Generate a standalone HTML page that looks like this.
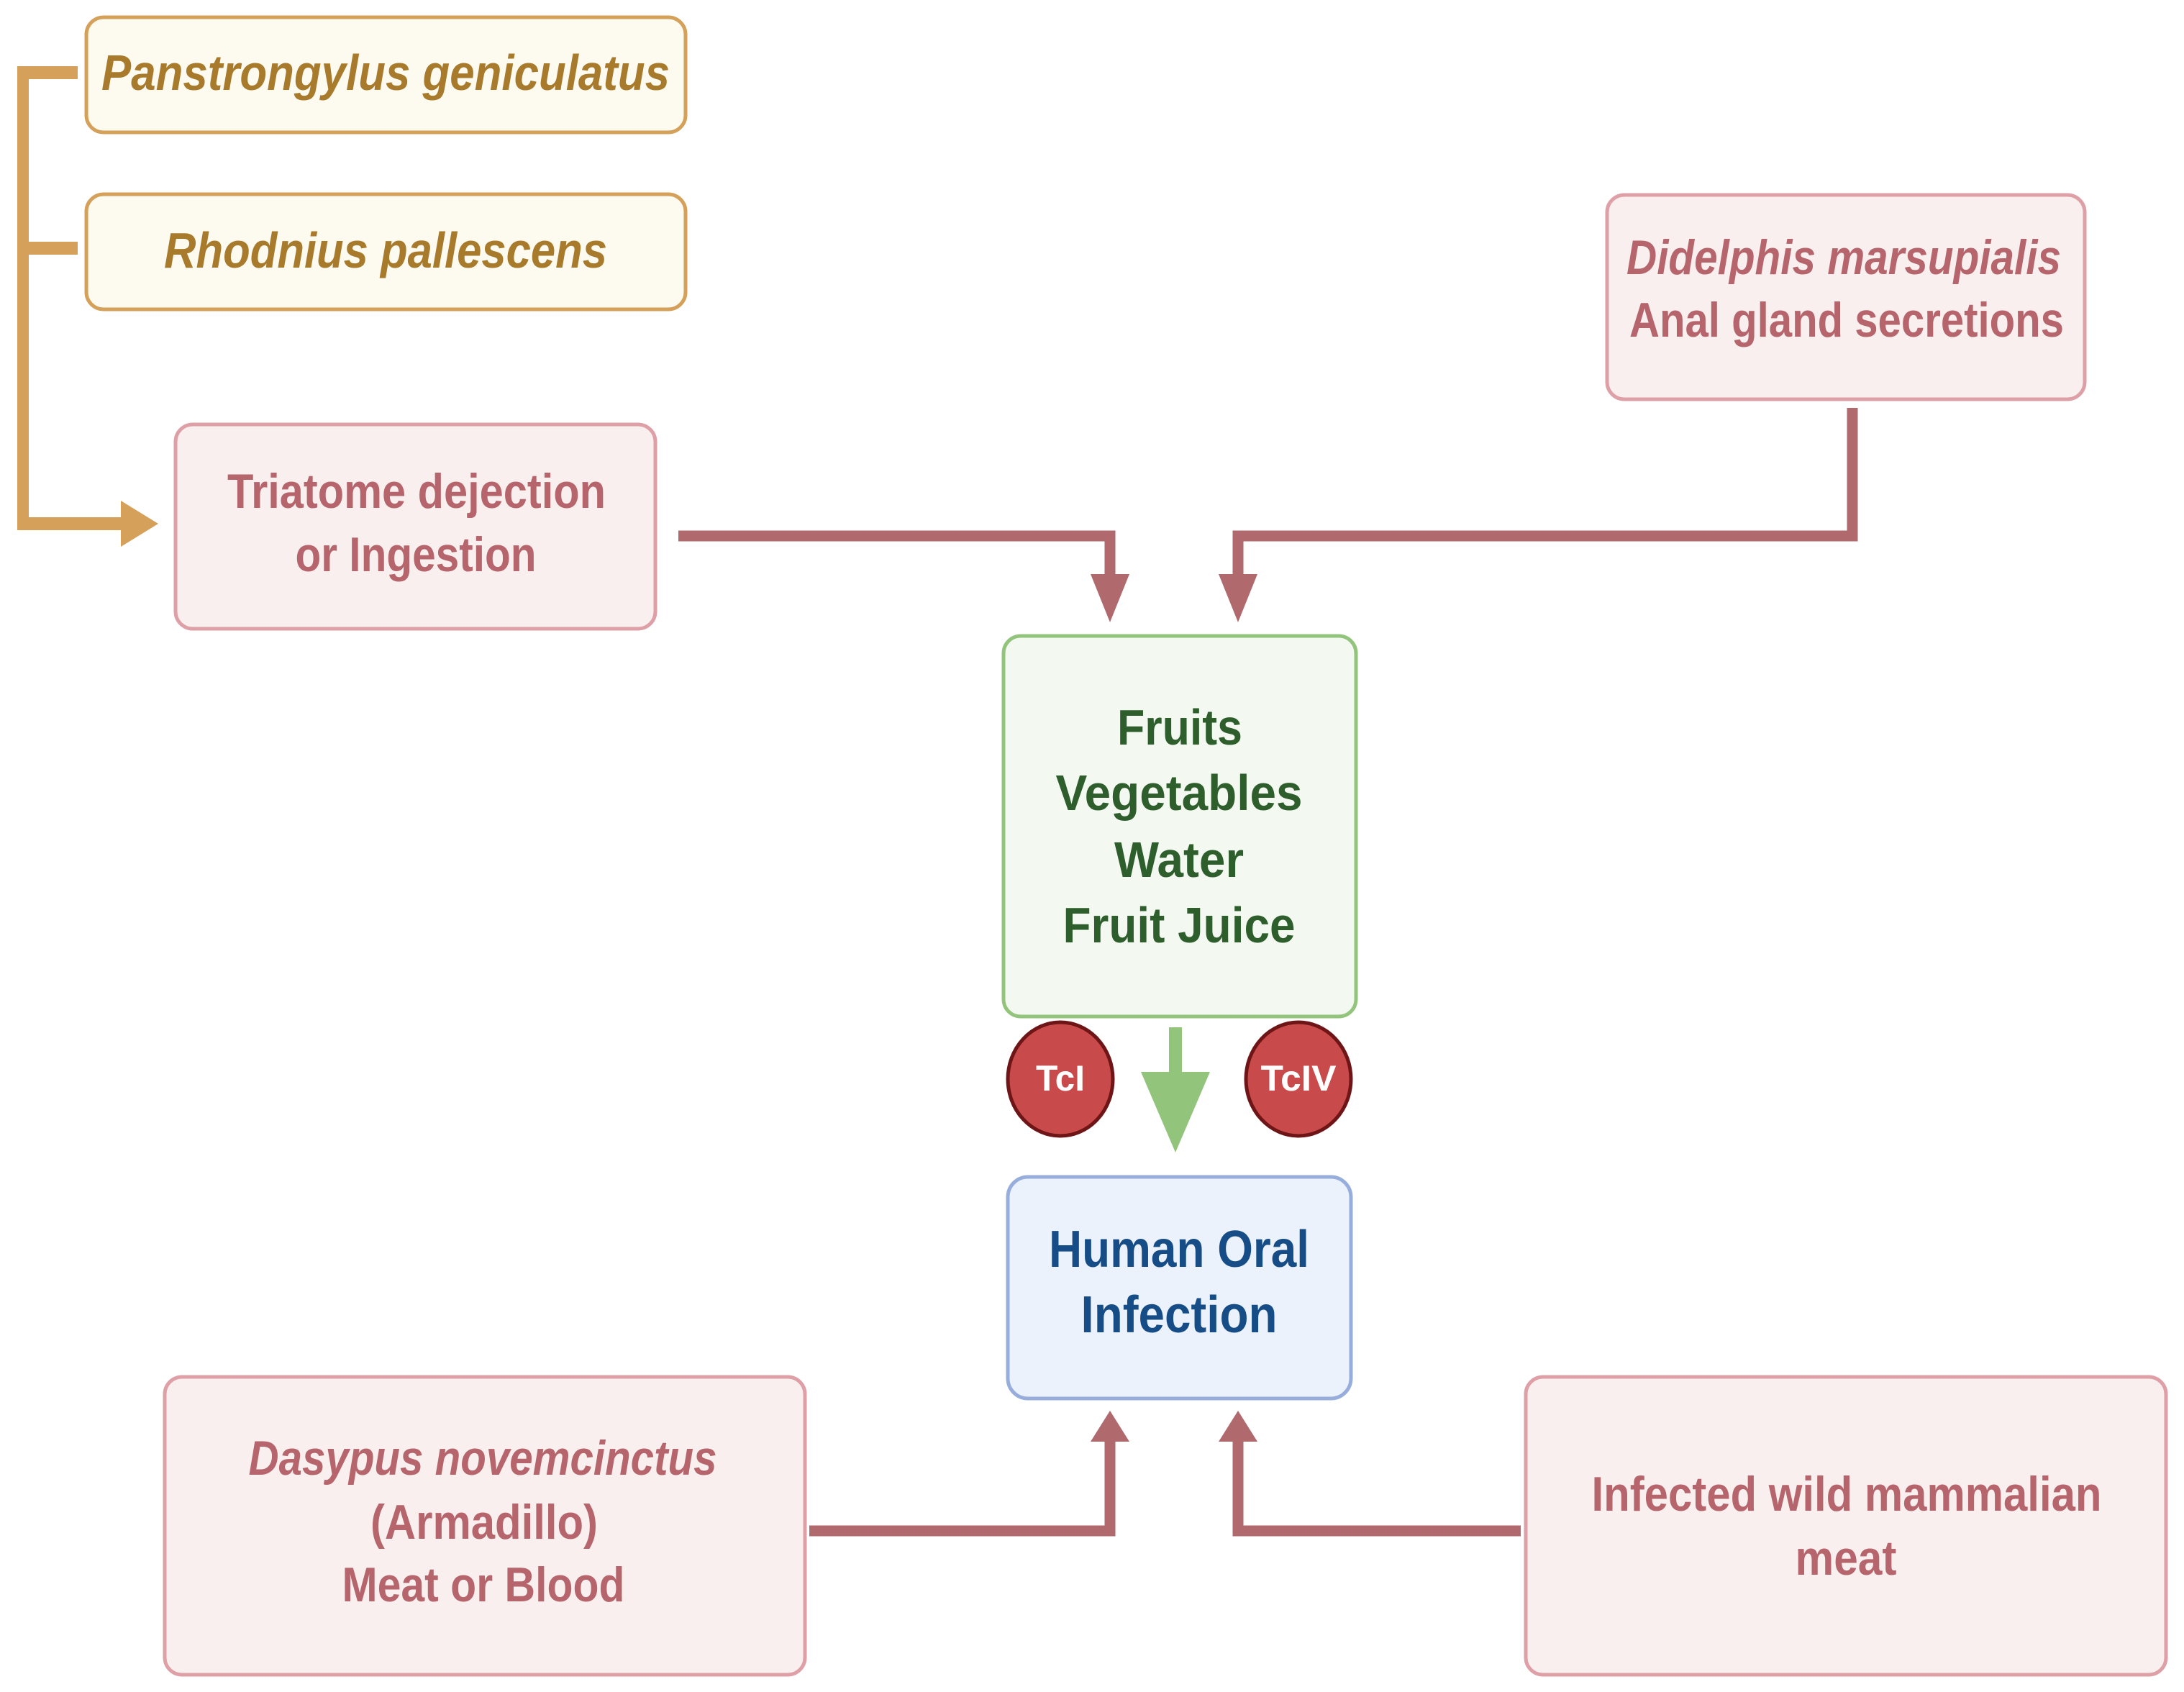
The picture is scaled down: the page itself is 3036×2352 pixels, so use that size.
<!DOCTYPE html>
<html><head><meta charset="utf-8"><style>html,body{margin:0;padding:0;background:#fff}svg{display:block}</style></head>
<body>
<svg width="3036" height="2352" viewBox="0 0 3036 2352" xmlns="http://www.w3.org/2000/svg" font-family="'Liberation Sans Narrow','Liberation Sans',sans-serif" font-weight="bold" dominant-baseline="central" text-anchor="middle">
<!-- gold bracket -->
<g fill="#d4a05a">
<rect x="24" y="92" width="16" height="645"/>
<rect x="24" y="92" width="84" height="18"/>
<rect x="24" y="336" width="84" height="18"/>
<rect x="24" y="719" width="150" height="18"/>
<polygon points="168,696 220,728 168,760"/>
</g>
<!-- boxes -->
<rect x="120" y="24" width="833" height="160" rx="24" fill="#fdfaef" stroke="#d4a05a" stroke-width="5"/>
<rect x="120" y="270" width="833" height="160" rx="24" fill="#fdfaef" stroke="#d4a05a" stroke-width="5"/>
<rect x="244" y="590" width="667" height="284" rx="24" fill="#f8efee" stroke="#dea0a6" stroke-width="5"/>
<rect x="2234" y="271" width="664" height="284" rx="24" fill="#f8efee" stroke="#dea0a6" stroke-width="5"/>
<rect x="229" y="1914" width="890" height="414" rx="24" fill="#f8efee" stroke="#dea0a6" stroke-width="5"/>
<rect x="2121" y="1914" width="890" height="414" rx="24" fill="#f8efee" stroke="#dea0a6" stroke-width="5"/>
<rect x="1395" y="884" width="490" height="529" rx="24" fill="#f3f8f1" stroke="#92c47c" stroke-width="5"/>
<rect x="1401" y="1636" width="477" height="308" rx="28" fill="#ecf2fb" stroke="#97aedc" stroke-width="5"/>
<!-- red connectors -->
<g fill="none" stroke="#b06a6e" stroke-width="15">
<polyline points="943,745 1543,745 1543,800"/>
<polyline points="2575,567 2575,745 1721,745 1721,800"/>
<polyline points="1125,2128 1543,2128 1543,2000"/>
<polyline points="2114,2128 1721,2128 1721,2000"/>
</g>
<g fill="#b06a6e">
<polygon points="1516,798 1570,798 1543,865"/>
<polygon points="1694,798 1748,798 1721,865"/>
<polygon points="1516,2004 1570,2004 1543,1961"/>
<polygon points="1694,2004 1748,2004 1721,1961"/>
</g>
<!-- green arrow -->
<rect x="1625" y="1428" width="18" height="80" fill="#92c47c"/>
<polygon points="1586,1490 1682,1490 1634,1602" fill="#92c47c"/>
<!-- circles -->
<ellipse cx="1474" cy="1500" rx="73" ry="79" fill="#c94a4a" stroke="#6e1517" stroke-width="5"/>
<ellipse cx="1805" cy="1500" rx="73" ry="79" fill="#c94a4a" stroke="#6e1517" stroke-width="5"/>
<g fill="#fff" font-family="'Liberation Sans',sans-serif" font-size="50">
<text x="1474" y="1499" textLength="68" lengthAdjust="spacingAndGlyphs">TcI</text>
<text x="1805" y="1499" textLength="105" lengthAdjust="spacingAndGlyphs">TcIV</text>
</g>
<!-- texts -->
<g fill="#a87a2c" font-style="italic" font-size="70">
<text x="536" y="101" textLength="790" lengthAdjust="spacingAndGlyphs">Panstrongylus geniculatus</text>
<text x="536" y="348" textLength="616" lengthAdjust="spacingAndGlyphs">Rhodnius pallescens</text>
</g>
<g fill="#b5656b" font-size="68">
<text x="579" y="683" textLength="526" lengthAdjust="spacingAndGlyphs">Triatome dejection</text>
<text x="578" y="771" textLength="335" lengthAdjust="spacingAndGlyphs">or Ingestion</text>
<text x="2563" y="358" textLength="604" lengthAdjust="spacingAndGlyphs" font-style="italic">Didelphis marsupialis</text>
<text x="2567" y="445" textLength="604" lengthAdjust="spacingAndGlyphs">Anal gland secretions</text>
<text x="671" y="2027" textLength="651" lengthAdjust="spacingAndGlyphs" font-style="italic">Dasypus novemcinctus</text>
<text x="673" y="2116" textLength="316" lengthAdjust="spacingAndGlyphs">(Armadillo)</text>
<text x="672" y="2203" textLength="393" lengthAdjust="spacingAndGlyphs">Meat or Blood</text>
<text x="2567" y="2077" textLength="709" lengthAdjust="spacingAndGlyphs">Infected wild mammalian</text>
<text x="2566" y="2166" textLength="141" lengthAdjust="spacingAndGlyphs">meat</text>
</g>
<g fill="#2d5e2b" font-size="70" font-family="'Liberation Sans',sans-serif">
<text x="1640" y="1011" textLength="174" lengthAdjust="spacingAndGlyphs">Fruits</text>
<text x="1639" y="1102" textLength="343" lengthAdjust="spacingAndGlyphs">Vegetables</text>
<text x="1639" y="1195" textLength="180" lengthAdjust="spacingAndGlyphs">Water</text>
<text x="1639" y="1286" textLength="323" lengthAdjust="spacingAndGlyphs">Fruit Juice</text>
</g>
<g fill="#164d86" font-size="72" font-family="'Liberation Sans',sans-serif">
<text x="1639" y="1737" textLength="362" lengthAdjust="spacingAndGlyphs">Human Oral</text>
<text x="1639" y="1828" textLength="273" lengthAdjust="spacingAndGlyphs">Infection</text>
</g>
</svg>
</body></html>
